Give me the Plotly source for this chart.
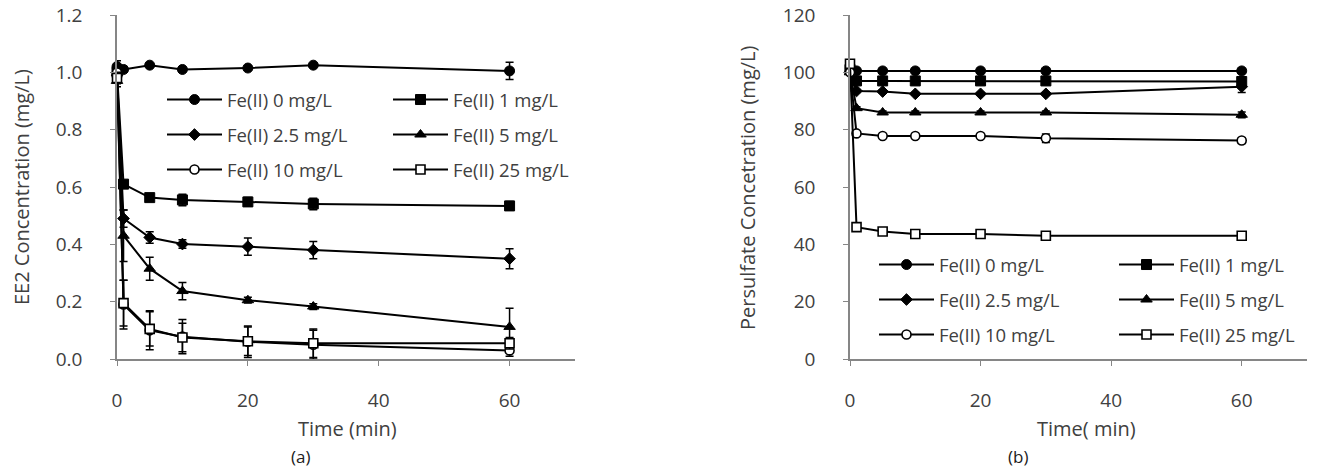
import plotly.graph_objects as go

# ---------------- data ----------------
time_min = [0, 1, 5, 10, 20, 30, 60]
series_names = ["Fe(II) 0 mg/L", "Fe(II) 1 mg/L", "Fe(II) 2.5 mg/L",
                "Fe(II) 5 mg/L", "Fe(II) 10 mg/L", "Fe(II) 25 mg/L"]

# (a) EE2 concentration (mg/L)
ee2_fe0 = [1.02, 1.01, 1.025, 1.01, 1.015, 1.025, 1.005]
ee2_fe1 = [1.00, 0.61, 0.563, 0.555, 0.548, 0.541, 0.534]
ee2_fe2_5 = [0.99, 0.49, 0.424, 0.401, 0.392, 0.380, 0.350]
ee2_fe5 = [0.97, 0.43, 0.315, 0.237, 0.205, 0.183, 0.112]
ee2_fe10 = [1.00, 0.19, 0.100, 0.078, 0.060, 0.050, 0.030]
ee2_fe25 = [0.98, 0.195, 0.105, 0.075, 0.062, 0.055, 0.055]

ee2_err_fe0 = [0.02, 0.01, 0.005, 0.005, 0.005, 0.005, 0.03]
ee2_err_fe1 = [0.02, 0.01, 0.01, 0.02, 0.015, 0.02, 0.015]
ee2_err_fe2_5 = [0.02, 0.03, 0.02, 0.015, 0.03, 0.03, 0.035]
ee2_err_fe5 = [0.02, 0.09, 0.04, 0.03, 0.01, 0.01, 0.065]
ee2_err_fe10 = [0.02, 0.085, 0.068, 0.06, 0.055, 0.05, 0.02]
ee2_err_fe25 = [0.02, 0.08, 0.06, 0.05, 0.05, 0.05, 0.02]

# (b) Persulfate concentration (mg/L)
ps_fe0 = [100.5, 100.5, 100.5, 100.5, 100.5, 100.5, 100.5]
ps_fe1 = [101, 97, 97, 97, 97, 97, 96.8]
ps_fe2_5 = [100, 93.5, 93.3, 92.5, 92.5, 92.5, 95]
ps_fe5 = [100, 87.5, 86, 86, 86, 86, 85.2]
ps_fe10 = [100, 78.7, 77.8, 77.8, 77.8, 77, 76.2]
ps_fe25 = [103, 46, 44.5, 43.6, 43.6, 43, 43]

ps_err_fe0 = [0.5, 0.3, 0.3, 0.3, 0.3, 0.3, 0.3]
ps_err_fe1 = [0.5, 0.3, 0.3, 0.3, 0.3, 0.3, 0.5]
ps_err_fe2_5 = [0.5, 0.5, 0.5, 0.5, 0.5, 0.5, 2.0]
ps_err_fe5 = [0.5, 0.5, 0.5, 0.5, 0.5, 0.5, 1.0]
ps_err_fe10 = [0.5, 0.5, 0.5, 0.5, 0.5, 1.5, 1.0]
ps_err_fe25 = [0.5, 0.5, 0.5, 0.5, 0.5, 0.5, 0.5]

# axis titles / panel labels
left_ytitle = "EE2 Concentration (mg/L)"
right_ytitle = "Persulfate Concetration (mg/L)"
left_xtitle = "Time (min)"
right_xtitle = "Time( min)"
panel_labels = ["(a)", "(b)"]

# ---------------- styles ----------------
W, H = 1323, 469
FONT = "Open Sans"
TXT = "#404040"
AX = "#868686"
TICK_SIZE = 19
LEG_SIZE = 18.5
TITLE_SIZE = 20

styles = [
    dict(symbol="circle", size=10, color="black", line=dict(color="black", width=1)),
    dict(symbol="square", size=10, color="black", line=dict(color="black", width=1)),
    dict(symbol="diamond", size=9, color="black", line=dict(color="black", width=1)),
    dict(symbol="triangle-up", size=10, color="black", line=dict(color="black", width=1)),
    dict(symbol="circle", size=9, color="white", line=dict(color="black", width=1.6)),
    dict(symbol="square", size=9, color="white", line=dict(color="black", width=1.6)),
]

ee2 = [ee2_fe0, ee2_fe1, ee2_fe2_5, ee2_fe5, ee2_fe10, ee2_fe25]
ee2_err = [ee2_err_fe0, ee2_err_fe1, ee2_err_fe2_5, ee2_err_fe5, ee2_err_fe10, ee2_err_fe25]
ps = [ps_fe0, ps_fe1, ps_fe2_5, ps_fe5, ps_fe10, ps_fe25]
ps_err = [ps_err_fe0, ps_err_fe1, ps_err_fe2_5, ps_err_fe5, ps_err_fe10, ps_err_fe25]

left_legends = ["legend", "legend", "legend2", "legend2", "legend3", "legend3"]
right_legends = ["legend4", "legend4", "legend5", "legend5", "legend6", "legend6"]

fig = go.Figure()

for i in range(6):
    fig.add_trace(go.Scatter(
        x=time_min, y=ee2[i], name=series_names[i], mode="lines+markers",
        line=dict(color="black", width=2), marker=styles[i],
        error_y=dict(type="data", array=ee2_err[i], color="black", thickness=1.5, width=4),
        cliponaxis=False, xaxis="x", yaxis="y", legend=left_legends[i]))
for i in range(6):
    fig.add_trace(go.Scatter(
        x=time_min, y=ps[i], name=series_names[i], mode="lines+markers",
        line=dict(color="black", width=2), marker=styles[i],
        error_y=dict(type="data", array=ps_err[i], color="black", thickness=1.5, width=4),
        cliponaxis=False, xaxis="x2", yaxis="y2", legend=right_legends[i]))


def px_x(p):
    return p / W


def px_y(p):
    return 1 - p / H


ydom = [px_y(359), px_y(15)]

axis_common = dict(
    showgrid=False, zeroline=False, showline=True, linecolor=AX, linewidth=1.5,
    ticks="outside", ticklen=5, tickcolor=AX, tickwidth=1.2, automargin=False,
    tickfont=dict(family=FONT, size=TICK_SIZE, color=TXT),
)

legend_common = dict(
    orientation="h", bgcolor="rgba(0,0,0,0)", borderwidth=0,
    font=dict(family=FONT, size=LEG_SIZE, color=TXT),
    xanchor="left", yanchor="middle", itemwidth=55, itemclick=False,
    tracegroupgap=0,
)

title_font = dict(family=FONT, size=TITLE_SIZE, color=TXT)


def title_ann(text, x, y, angle=0):
    return dict(text=text, x=px_x(x), y=px_y(y), xref="paper", yref="paper",
                xanchor="center", yanchor="middle", textangle=angle,
                showarrow=False, font=title_font)


fig.update_layout(
    width=W, height=H, margin=dict(l=0, r=0, t=0, b=0, autoexpand=False),
    paper_bgcolor="white", plot_bgcolor="white",
    font=dict(family=FONT, color=TXT),
    xaxis=dict(axis_common, domain=[px_x(117), px_x(575)], range=[0, 70],
               tickvals=[0, 20, 40, 60], anchor="y", ticklabelstandoff=18),
    yaxis=dict(axis_common, domain=ydom, range=[0, 1.2], dtick=0.2, tickformat=".1f",
               anchor="x", ticklabelstandoff=24),
    xaxis2=dict(axis_common, domain=[px_x(850), px_x(1307)], range=[0, 70],
                tickvals=[0, 20, 40, 60], anchor="y2", ticklabelstandoff=18),
    yaxis2=dict(axis_common, domain=ydom, range=[0, 120], dtick=20,
                anchor="x2", ticklabelstandoff=24),
    legend=dict(legend_common, x=px_x(162), y=px_y(100), entrywidth=156),
    legend2=dict(legend_common, x=px_x(162), y=px_y(135), entrywidth=156),
    legend3=dict(legend_common, x=px_x(162), y=px_y(170), entrywidth=156),
    legend4=dict(legend_common, x=px_x(874), y=px_y(265), entrywidth=170),
    legend5=dict(legend_common, x=px_x(874), y=px_y(300), entrywidth=170),
    legend6=dict(legend_common, x=px_x(874), y=px_y(335), entrywidth=170),
    annotations=[
        title_ann(left_ytitle, 22, 187, -90),
        title_ann(right_ytitle, 747, 188, -90),
        title_ann(left_xtitle, 347, 428),
        title_ann(right_xtitle, 1086, 428),
        dict(text=panel_labels[0], x=px_x(300), y=px_y(456), xref="paper", yref="paper",
             xanchor="center", yanchor="middle",
             showarrow=False, font=dict(family=FONT, size=17, color="#202020")),
        dict(text=panel_labels[1], x=px_x(1018), y=px_y(456), xref="paper", yref="paper",
             xanchor="center", yanchor="middle",
             showarrow=False, font=dict(family=FONT, size=17, color="#202020")),
    ],
)

fig.write_html("out.html")
